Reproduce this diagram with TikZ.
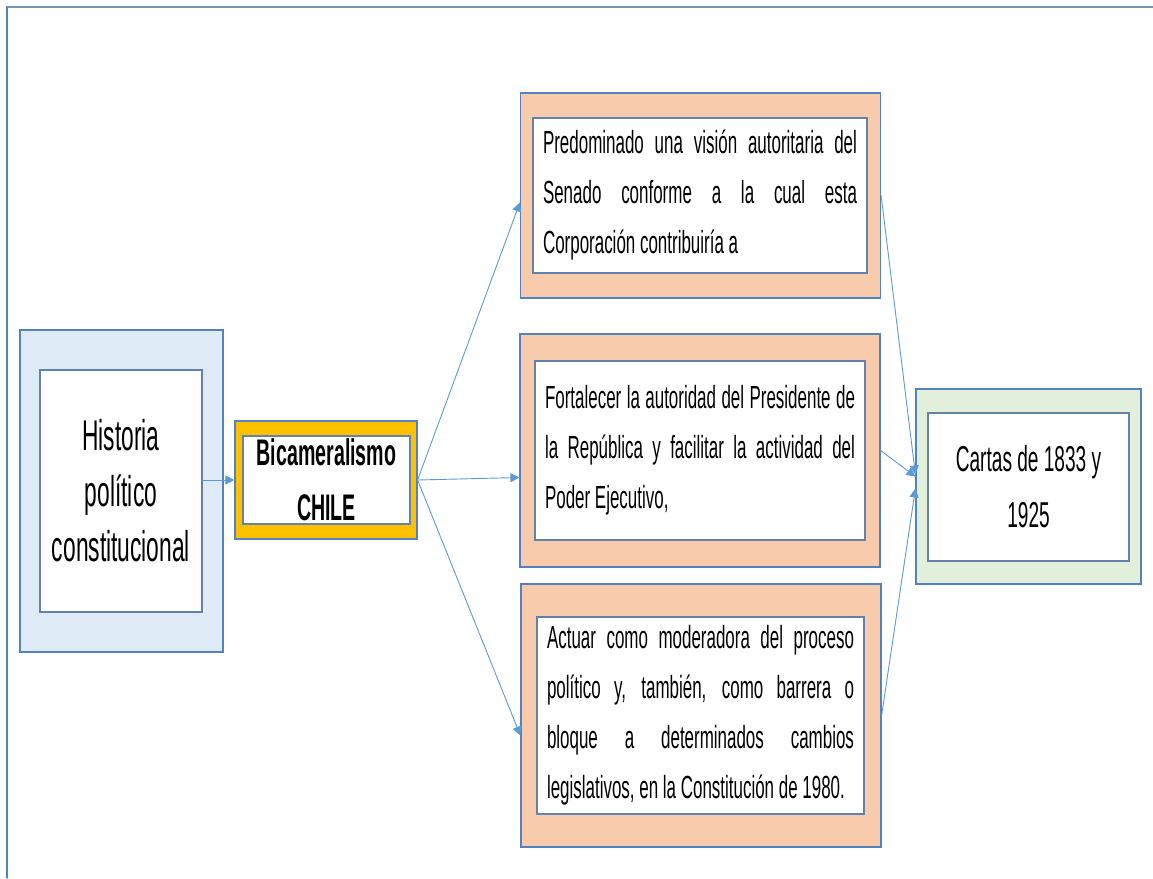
\documentclass[tikz,border=0pt]{standalone}
\usepackage{fontspec}
\setmainfont{Liberation Sans}[FakeStretch=0.53]
\usetikzlibrary{arrows.meta,calc}

\begin{document}
\begin{tikzpicture}[x=1pt,y=-1pt,line cap=round]
  \tikzset{
    outerbox/.style={draw=boxline, line width=1.2pt, inner sep=0pt},
    innerbox/.style={draw=innerline, line width=1.2pt, fill=white, inner sep=0pt},
    bodytext/.style={font=\fontsize{32}{50}\selectfont, align=justify, inner xsep=10pt, inner ysep=0pt},
    link/.style={draw=linkblue, line width=0.9pt, -{Triangle[length=9pt,width=9pt]}}
  }
  \definecolor{boxline}{RGB}{84,130,192}
  \definecolor{innerline}{RGB}{98,130,172}
  \definecolor{linkblue}{RGB}{91,155,213}
  \definecolor{framegrey}{RGB}{118,148,180}
  \definecolor{histfill}{RGB}{222,234,246}
  \definecolor{bicfill}{RGB}{255,192,0}
  \definecolor{peach}{RGB}{248,203,173}
  \definecolor{greenfill}{RGB}{226,239,218}

  \useasboundingbox (0,0) rectangle (1153,878);

  % Page frame
  \draw[line width=2.5pt, framegrey] (7,7) -- (1153,7);
  \draw[line width=1.2pt, boxline] (7,7) -- (7,878);

  % Historia politico constitucional
  \node[outerbox, fill=histfill, minimum width=203pt, minimum height=322pt] (histO) at (121.5,491) {};
  \node[innerbox, minimum width=162pt, minimum height=242pt, align=center,
        font=\fontsize{43}{55.5}\selectfont] (histIn) at (121,491) {Historia\\político\\constitucional};

  % Bicameralismo CHILE
  \node[outerbox, fill=bicfill, minimum width=182pt, minimum height=118pt] (bicO) at (326,480) {};
  \node[innerbox, minimum width=167pt, minimum height=88pt, align=center,
        font=\bfseries\fontsize{37}{55}\selectfont] (bicIn) at (326.5,480) {Bicameralismo\\CHILE};

  % Three roles of the Senate
  \node[outerbox, fill=peach, minimum width=360pt, minimum height=205pt] (topO) at (700.5,195.5) {};
  \node[innerbox, bodytext, text width=314pt, minimum height=155pt] (topIn) at (700,195.5)
    {Predominado una visión autoritaria del\linebreak Senado conforme a la cual esta\linebreak Corporación contribuiría a};

  \node[outerbox, fill=peach, minimum width=360pt, minimum height=233pt] (midO) at (700,450.5) {};
  \node[innerbox, bodytext, text width=310pt, minimum height=179pt] (midIn) at (700,450.5)
    {Fortalecer la autoridad del Presidente de\linebreak la República y facilitar la actividad del\linebreak Poder Ejecutivo,};

  \node[outerbox, fill=peach, minimum width=360pt, minimum height=263pt] (botO) at (701,715.5) {};
  \node[innerbox, bodytext, text width=307pt, minimum height=197pt] (botIn) at (700.5,715.5)
    {Actuar como moderadora del proceso\linebreak político y, también, como barrera o\linebreak bloque a determinados cambios\linebreak legislativos, en la Constitución de 1980.};

  % Cartas de 1833 y 1925
  \node[outerbox, fill=greenfill, minimum width=225pt, minimum height=195pt] (grnO) at (1028.5,486.5) {};
  \node[innerbox, minimum width=201pt, minimum height=148pt, align=center,
        font=\fontsize{36}{56}\selectfont] (grnIn) at (1028.5,487) {Cartas de 1833 y\\1925};

  % Connectors
  \draw[link] (histIn.east |- bicO.west) -- (bicO.west);
  \draw[link] (bicO.east) -- ($(topO.west)+(0,7)$);
  \draw[link] (bicO.east) -- ($(midO.west)+(0,27)$);
  \draw[link] (bicO.east) -- ($(botO.west)+(0,20)$);
  \draw[link] (topO.east) -- ($(grnO.west)+(0,-12)$);
  \draw[link] (midO.east) -- ($(grnO.west)+(0,-10)$);
  \draw[link] (botO.east) -- ($(grnO.west)+(0,2)$);
\end{tikzpicture}
\end{document}
